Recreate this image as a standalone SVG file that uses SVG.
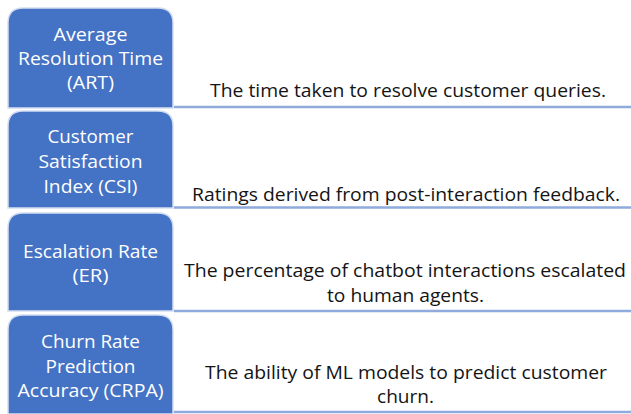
<svg xmlns="http://www.w3.org/2000/svg" width="631" height="414" viewBox="0 0 631 414">
<style>
.box{fill:#4472C4;stroke:#D3DDF1;stroke-width:1.5}
.lbl{font-family:"Open Sans","Liberation Sans",sans-serif;font-size:19px;fill:#FFFFFF;text-anchor:middle}
.desc{font-family:"Open Sans","Liberation Sans",sans-serif;font-size:19px;fill:#141414;text-anchor:middle}
.rule{stroke:#8FAADC;stroke-width:2.5}
</style>
<rect width="631" height="414" fill="#FFFFFF"/>
<g id="connectors">
<line class="rule" x1="174" y1="107" x2="631" y2="107"/>
<line class="rule" x1="174" y1="207.5" x2="631" y2="207.5"/>
<line class="rule" x1="174" y1="311" x2="631" y2="311"/>
<line class="rule" x1="174" y1="412" x2="631" y2="412"/>
</g>
<g id="art">
<path class="box" d="M8,108 V23 Q8,8 23,8 H158 Q173,8 173,23 V108 Z"/>
<text class="lbl" x="90.5" y="41" textLength="74" lengthAdjust="spacingAndGlyphs">Average</text>
<text class="lbl" x="90.5" y="65" textLength="145" lengthAdjust="spacingAndGlyphs">Resolution Time</text>
<text class="lbl" x="90.5" y="89" textLength="47" lengthAdjust="spacingAndGlyphs">(ART)</text>
<text class="desc" x="408" y="97" textLength="396" lengthAdjust="spacingAndGlyphs">The time taken to resolve customer queries.</text>
</g>
<g id="csi">
<path class="box" d="M8,208 V126 Q8,111 23,111 H158 Q173,111 173,126 V208 Z"/>
<text class="lbl" x="90.5" y="143" textLength="86" lengthAdjust="spacingAndGlyphs">Customer</text>
<text class="lbl" x="90.5" y="168" textLength="104" lengthAdjust="spacingAndGlyphs">Satisfaction</text>
<text class="lbl" x="90.5" y="193" textLength="94" lengthAdjust="spacingAndGlyphs">Index (CSI)</text>
<text class="desc" x="406" y="201" textLength="428" lengthAdjust="spacingAndGlyphs">Ratings derived from post-interaction feedback.</text>
</g>
<g id="er">
<path class="box" d="M8,311 V228 Q8,213 23,213 H158 Q173,213 173,228 V311 Z"/>
<text class="lbl" x="90.5" y="258" textLength="135" lengthAdjust="spacingAndGlyphs">Escalation Rate</text>
<text class="lbl" x="90.5" y="282" textLength="36" lengthAdjust="spacingAndGlyphs">(ER)</text>
<text class="desc" x="405" y="277" textLength="442" lengthAdjust="spacingAndGlyphs">The percentage of chatbot interactions escalated</text>
<text class="desc" x="405.5" y="301.5" textLength="157" lengthAdjust="spacingAndGlyphs">to human agents.</text>
</g>
<g id="crpa">
<path class="box" d="M8,414 V330 Q8,315 23,315 H158 Q173,315 173,330 V414 Z"/>
<text class="lbl" x="90.5" y="348" textLength="99" lengthAdjust="spacingAndGlyphs">Churn Rate</text>
<text class="lbl" x="90.5" y="373" textLength="90" lengthAdjust="spacingAndGlyphs">Prediction</text>
<text class="lbl" x="90.5" y="397" textLength="146" lengthAdjust="spacingAndGlyphs">Accuracy (CRPA)</text>
<text class="desc" x="406" y="379" textLength="402" lengthAdjust="spacingAndGlyphs">The ability of ML models to predict customer</text>
<text class="desc" x="405.5" y="402.5" textLength="57" lengthAdjust="spacingAndGlyphs">churn.</text>
</g>
</svg>
